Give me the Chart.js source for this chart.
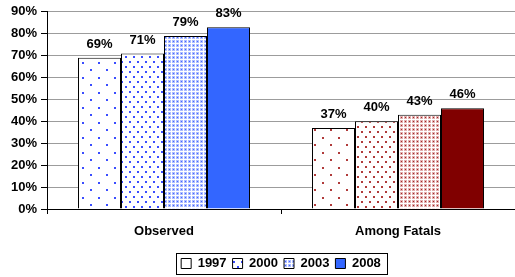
<!DOCTYPE html>
<html>
<head>
<meta charset="utf-8">
<script src="https://cdn.jsdelivr.net/npm/chart.js@4/dist/chart.umd.min.js"></script>
<style>
  html, body { margin: 0; padding: 0; background: #fff; }
  #wrap { width: 515px; height: 277px; }
</style>
</head>
<body>
<div id="wrap"><canvas id="chart"></canvas></div>
<script>
const categories = ["Observed", "Among Fatals"];
const years = ["1997", "2000", "2003", "2008"];
const values1997 = [69, 37];
const values2000 = [71, 40];
const values2003 = [79, 43];
const values2008 = [83, 46];
const yTicks = [0, 10, 20, 30, 40, 50, 60, 70, 80, 90];

const FONT = "'Liberation Sans', Arial, sans-serif";
const BLUE = "#3366ff";
const RED = "#800000";

// small tiles for the dotted fills
function tile(w, h, draw) {
  const c = document.createElement("canvas");
  c.width = w;
  c.height = h;
  const g = c.getContext("2d");
  g.fillStyle = "#fff";
  g.fillRect(0, 0, w, h);
  draw(g);
  return g.createPattern(c, "repeat");
}

const sparseDots = (col) => tile(16, 15, (g) => {
  g.fillStyle = col;
  g.fillRect(2, 2, 2, 2);
  g.fillRect(10, 9, 2, 2);
});
const mediumDots = (col) => tile(8, 10, (g) => {
  g.fillStyle = col;
  g.fillRect(1, 1, 2, 2);
  g.fillRect(5, 6, 2, 2);
});
const fineDots = (light, dark) => tile(4, 4, (g) => {
  g.fillStyle = light;
  g.fillRect(0, 0, 3, 3);
  g.fillStyle = dark;
  g.fillRect(1, 1, 1, 1);
});

const fills = [
  [sparseDots("#3a4dff"), sparseDots("#b03a3a")],
  [mediumDots("#3a4dff"), mediumDots("#b03a3a")],
  [fineDots("#aebdff", "#4466ff"), fineDots("#e2b0b0", "#a02828")],
  [BLUE, RED],
];
// legend swatches: the sparse one reads as plain white at that size
const legendFills = ["#fff", fills[1][0], fills[2][0], BLUE];
const series = [values1997, values2000, values2003, values2008];

const barLabels = {
  id: "barLabels",
  afterDatasetsDraw(chart) {
    const ctx = chart.ctx;
    ctx.save();
    ctx.font = "bold 13px " + FONT;
    ctx.fillStyle = "#000";
    ctx.textAlign = "center";
    ctx.textBaseline = "bottom";
    chart.data.datasets.forEach((ds, i) => {
      chart.getDatasetMeta(i).data.forEach((bar, j) => {
        ctx.fillText(ds.data[j] + "%", bar.x, bar.y - 7);
      });
    });
    ctx.restore();
  },
};

// legend sits under the plot area, not the whole canvas
const legendPlace = {
  id: "legendPlace",
  afterLayout(chart) {
    const lg = chart.legend;
    const dx = (chart.chartArea.left + chart.chartArea.right) / 2 - (lg.left + lg.right) / 2;
    lg.left += dx;
    lg.right += dx;
    lg.top += 6;
    lg.bottom += 6;
  },
};

const legendBorder = {
  id: "legendBorder",
  afterDraw(chart) {
    const boxes = chart.legend.legendHitBoxes;
    if (!boxes.length) return;
    const l = Math.min(...boxes.map((b) => b.left)) - 5;
    const r = Math.max(...boxes.map((b) => b.left + b.width)) + 6;
    const t = Math.min(...boxes.map((b) => b.top)) - 4;
    const btm = Math.max(...boxes.map((b) => b.top + b.height)) + 4;
    const ctx = chart.ctx;
    ctx.save();
    ctx.strokeStyle = "#000";
    ctx.lineWidth = 1;
    ctx.strokeRect(Math.round(l) + 0.5, Math.round(t) + 0.5, Math.round(r - l), Math.round(btm - t));
    ctx.restore();
  },
};

new Chart(document.getElementById("chart"), {
  type: "bar",
  data: {
    labels: categories,
    datasets: years.map((y, i) => ({
      label: y,
      data: series[i],
      backgroundColor: fills[i],
      borderColor: "#000",
      borderWidth: 1,
      borderSkipped: "bottom",
      barPercentage: 1,
      categoryPercentage: 0.735,
    })),
  },
  options: {
    animation: false,
    responsive: true,
    maintainAspectRatio: false,
    layout: { padding: { top: 10, right: 0, left: 0, bottom: 3 } },
    plugins: {
      tooltip: { enabled: false },
      legend: {
        position: "bottom",
        labels: {
          color: "#000",
          font: { family: FONT, size: 13, weight: "bold" },
          boxWidth: 10,
          boxHeight: 10,
          padding: 6,
          generateLabels: (chart) =>
            chart.data.datasets.map((ds, i) => ({
              text: ds.label,
              fillStyle: legendFills[i],
              strokeStyle: "#000",
              lineWidth: 1,
              fontColor: "#000",
              datasetIndex: i,
            })),
        },
      },
    },
    scales: {
      x: {
        afterFit: (s) => { s.height = 36; },
        grid: { drawOnChartArea: false, tickLength: 5, tickColor: "#000" },
        border: { color: "#000", width: 1 },
        ticks: {
          color: "#000",
          padding: 10,
          font: { family: FONT, size: 13, weight: "bold" },
        },
      },
      y: {
        min: 0,
        max: 90,
        afterFit: (s) => { s.width = 47; },
        afterBuildTicks: (s) => { s.ticks = yTicks.map((v) => ({ value: v })); },
        grid: { color: "#9c9c9c", tickLength: 6, tickColor: "#000" },
        border: { color: "#000", width: 1 },
        ticks: {
          color: "#000",
          padding: 4,
          font: { family: FONT, size: 13, weight: "bold" },
          callback: (v) => v + "%",
        },
      },
    },
  },
  plugins: [barLabels, legendPlace, legendBorder],
});
</script>
</body>
</html>
